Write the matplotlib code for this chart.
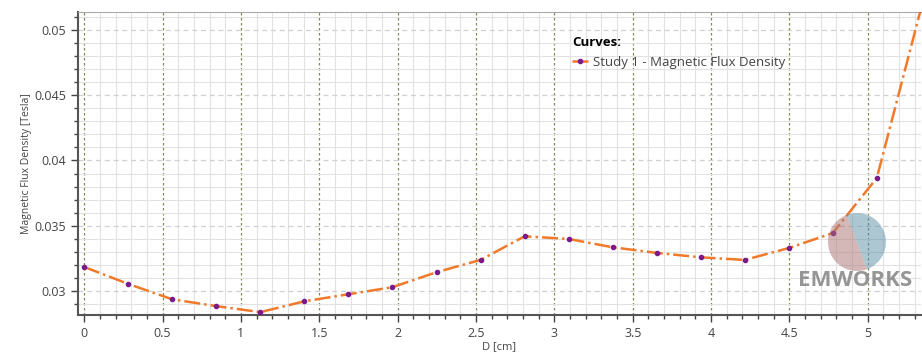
import matplotlib.pyplot as plt
from matplotlib.patches import Wedge
from matplotlib.ticker import MultipleLocator

# 数据：D [cm] 与磁通密度 [Tesla]
d_cm = [0.0, 0.281, 0.562, 0.843, 1.124, 1.405, 1.686, 1.967, 2.248, 2.529,
        2.810, 3.091, 3.372, 3.653, 3.934, 4.215, 4.496, 4.777, 5.058, 5.339]
flux_tesla = [0.03184, 0.03054, 0.02936, 0.02884, 0.02838, 0.02921, 0.02975, 0.03029,
              0.03144, 0.03238, 0.03419, 0.03399, 0.03335, 0.03292, 0.03258, 0.03238,
              0.03329, 0.03444, 0.03866, 0.05160]
x_ticks = [0, 0.5, 1, 1.5, 2, 2.5, 3, 3.5, 4, 4.5, 5]
y_ticks = [0.03, 0.035, 0.04, 0.045, 0.05]
y_tick_labels = ["0.03", "0.035", "0.04", "0.045", "0.05"]

plt.rcParams['font.family'] = ['Open Sans', 'DejaVu Sans']

fig = plt.figure(figsize=(9.22, 3.6), dpi=100)
ax = fig.add_axes([78 / 922, 45 / 360, 843 / 922, 303 / 360])

ax.plot(d_cm, flux_tesla, color='#f07a2a', linestyle='-.', linewidth=1.8,
        marker='o', markersize=3, markerfacecolor='#7a1a8c', markeredgecolor='#7a1a8c',
        label='Study 1 - Magnetic Flux Density', zorder=3)

ax.set_xlim(-0.04, 5.34)
ax.set_ylim(0.02816, 0.05138)
ax.set_xticks(x_ticks)
ax.set_xticklabels([f"{t:g}" for t in x_ticks])
ax.set_yticks(y_ticks)
ax.set_yticklabels(y_tick_labels)
ax.xaxis.set_minor_locator(MultipleLocator(0.1))
ax.yaxis.set_minor_locator(MultipleLocator(0.001))

# 网格线
ax.grid(which='minor', color='#e2e2e2', linewidth=0.8)
ax.grid(which='major', axis='x', color='#7d8a55', linestyle=(0, (2, 2)), linewidth=0.9)
ax.grid(which='major', axis='y', color='#d0d0d0', linestyle=(0, (4, 3)), linewidth=0.9)
ax.set_axisbelow(True)

ax.tick_params(which='major', direction='out', length=5, width=1, color='#444444',
               labelsize=9, labelcolor='#444444')
ax.tick_params(which='minor', direction='out', length=3, width=1, color='#444444')
for side in ['left', 'bottom']:
    ax.spines[side].set_color('#555555')
    ax.spines[side].set_linewidth(1.5)
ax.spines['top'].set_color('#aaaaaa')
ax.spines['right'].set_visible(False)

ax.set_xlabel("D [cm]", fontsize=8, color='#444444', labelpad=1)
ax.set_ylabel("Magnetic Flux Density [Tesla]", fontsize=7.5, color='#444444', labelpad=2)

leg = ax.legend(loc='upper left', bbox_to_anchor=(0.572, 0.96), frameon=False,
                title='Curves:', alignment='left', fontsize=9.5, handlelength=1.2,
                handletextpad=0.4, title_fontproperties={'weight': 'bold', 'size': 9.5})
for t in leg.get_texts():
    t.set_color('#444444')

# EMWORKS 水印
logo_c = (8.57, 3.6 - 2.42)
fig.patches.append(Wedge(logo_c, 0.29, 110, 290, transform=fig.dpi_scale_trans,
                         facecolor='#a87370', alpha=0.5, edgecolor='none', figure=fig))
fig.patches.append(Wedge(logo_c, 0.29, -70, 110, transform=fig.dpi_scale_trans,
                         facecolor='#5a8ea6', alpha=0.5, edgecolor='none', figure=fig))
fig.text(855 / 922, 1 - 280 / 360, "EMWORKS", ha='center', va='center',
         fontsize=16, fontweight='bold', color='#8a8a8a', alpha=0.9)

fig.savefig("out.png", dpi=100)
